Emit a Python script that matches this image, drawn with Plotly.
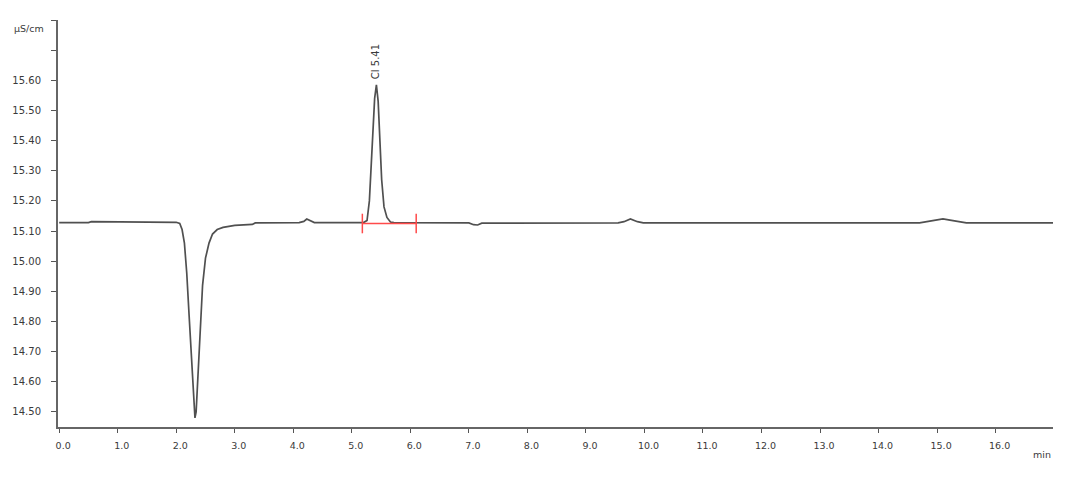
import plotly.graph_objects as go

# Chromatogram trace (minutes, µS/cm)
time_min = [0.0, 0.50, 0.55, 1.50, 2.00, 2.06, 2.10, 2.14, 2.18, 2.22, 2.26, 2.29,
            2.32, 2.34, 2.37, 2.41, 2.45, 2.50, 2.56, 2.62, 2.70, 2.80, 2.90, 3.00,
            3.30, 3.35, 4.10, 4.18, 4.23, 4.30, 4.36, 5.20, 5.26, 5.30, 5.33, 5.36,
            5.39, 5.42, 5.45, 5.48, 5.51, 5.55, 5.60, 5.66, 5.72, 7.00, 7.08, 7.15,
            7.22, 9.55, 9.65, 9.76, 9.88, 9.98, 14.70, 14.85, 14.98, 15.10, 15.22,
            15.35, 15.50, 16.98]
conductivity = [15.128, 15.128, 15.131, 15.131, 15.129, 15.125, 15.105, 15.06, 14.96,
                14.82, 14.68, 14.57, 14.48, 14.50, 14.62, 14.79, 14.92, 15.01, 15.06,
                15.09, 15.105, 15.112, 15.116, 15.119, 15.122, 15.127, 15.128, 15.132,
                15.140, 15.132, 15.128, 15.128, 15.135, 15.20, 15.30, 15.42, 15.54,
                15.585, 15.53, 15.40, 15.27, 15.18, 15.145, 15.13, 15.128, 15.127,
                15.121, 15.120, 15.126, 15.127, 15.131, 15.140, 15.131, 15.127, 15.127,
                15.132, 15.136, 15.140, 15.136, 15.132, 15.127, 15.127]

# Integration baseline of the Cl peak
integ_time = [5.18, 6.10]
integ_level = [15.125, 15.125]

# Peak label
peak_name = "Cl 5.41"
peak_time = 5.41
peak_top = 15.585

# Axis ticks
x_ticks = list(range(0, 17))
x_ticktext = [f"{v:.1f}" for v in x_ticks]
y_ticks = [14.5, 14.6, 14.7, 14.8, 14.9, 15.0, 15.1, 15.2, 15.3, 15.4, 15.5, 15.6, 15.7, 15.8]
y_ticktext = [f"{v:.2f}" for v in y_ticks[:-2]] + ["", ""]

font_family = "DejaVu Sans"
text_color = "#3a3a3a"

fig = go.Figure()
fig.add_trace(go.Scatter(
    x=time_min, y=conductivity, mode="lines",
    line=dict(color="#505050", width=1.7),
    hoverinfo="x+y", showlegend=False,
))
fig.add_trace(go.Scatter(
    x=integ_time, y=integ_level, mode="lines+markers",
    line=dict(color="#ff4a4a", width=1.3),
    marker=dict(symbol="line-ns-open", size=14, line=dict(color="#ff4a4a", width=1.5)),
    showlegend=False,
))

fig.add_annotation(
    x=peak_time, y=peak_top, text=peak_name, textangle=-90,
    showarrow=False, xanchor="center", yanchor="bottom", yshift=4,
    font=dict(family=font_family, size=10, color=text_color),
)
fig.add_annotation(
    xref="paper", yref="paper", x=-0.0125, y=0.98, text="µS/cm",
    showarrow=False, xanchor="right", yanchor="middle",
    font=dict(family=font_family, size=9.5, color=text_color),
)
fig.add_annotation(
    xref="paper", yref="paper", x=1.0, y=-0.05, text="min",
    showarrow=False, xanchor="right", yanchor="top",
    font=dict(family=font_family, size=9.5, color=text_color),
)

fig.update_layout(
    width=1080, height=481,
    margin=dict(l=56, r=27, t=20, b=54),
    paper_bgcolor="white", plot_bgcolor="white",
    font=dict(family=font_family, color=text_color),
)
fig.update_xaxes(
    range=[-0.02, 16.98], tickvals=x_ticks, ticktext=x_ticktext,
    showline=True, linecolor="#666666", linewidth=2,
    ticks="outside", ticklen=4, tickwidth=1.3, tickcolor="#555555",
    showgrid=False, zeroline=False, ticklabelshift=4, ticklabelstandoff=5,
    tickfont=dict(family=font_family, size=9.5, color=text_color),
)
fig.update_yaxes(
    range=[14.45, 15.80], tickvals=y_ticks, ticktext=y_ticktext,
    showline=True, linecolor="#666666", linewidth=2,
    ticks="outside", ticklen=5, tickwidth=1.3, tickcolor="#555555",
    showgrid=False, zeroline=False, ticklabelstandoff=8,
    tickfont=dict(family=font_family, size=10, color=text_color),
)

fig.write_html(
    "out.html",
    config={"displayModeBar": False},
    post_script="document.body.style.margin='0';document.body.style.overflow='hidden';",
)
